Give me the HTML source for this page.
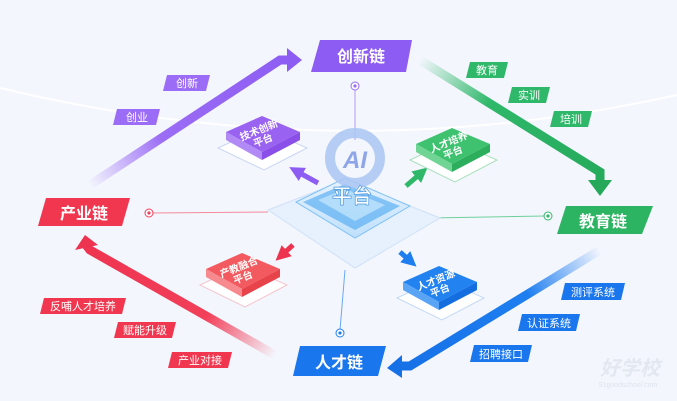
<!DOCTYPE html>
<html><head><meta charset="utf-8"><style>
body{margin:0;width:677px;height:401px;overflow:hidden;background:#f3f6fd;font-family:"Liberation Sans","Noto Sans CJK SC",sans-serif}
svg{display:block}
text{font-family:"Liberation Sans","Noto Sans CJK SC",sans-serif}
</style></head><body>
<svg width="677" height="401" viewBox="0 0 677 401" xmlns="http://www.w3.org/2000/svg">
<defs>
<linearGradient id="gp" x1="90" y1="185" x2="300" y2="58" gradientUnits="userSpaceOnUse"><stop offset="0" stop-color="#9b6cf5" stop-opacity="0"/><stop offset="0.35" stop-color="#9b6cf5"/><stop offset="1" stop-color="#8d5cf3"/></linearGradient>
<linearGradient id="gg" x1="420" y1="60" x2="610" y2="195" gradientUnits="userSpaceOnUse"><stop offset="0" stop-color="#2fb86a" stop-opacity="0"/><stop offset="0.35" stop-color="#2fb86a"/><stop offset="1" stop-color="#25a85a"/></linearGradient>
<linearGradient id="gr" x1="275" y1="355" x2="85" y2="235" gradientUnits="userSpaceOnUse"><stop offset="0" stop-color="#f2405a" stop-opacity="0"/><stop offset="0.35" stop-color="#f2405a"/><stop offset="1" stop-color="#ee3350"/></linearGradient>
<linearGradient id="gb" x1="600" y1="250" x2="387" y2="368" gradientUnits="userSpaceOnUse"><stop offset="0" stop-color="#1e7ef0" stop-opacity="0"/><stop offset="0.35" stop-color="#1e7ef0"/><stop offset="1" stop-color="#1670e6"/></linearGradient>
<linearGradient id="cp" x1="0" y1="0" x2="0" y2="1"><stop offset="0" stop-color="#e8f3ff"/><stop offset="1" stop-color="#bfe0fb"/></linearGradient>
<marker id="mp" markerWidth="3" markerHeight="3" refX="1" refY="1.5" orient="auto"><polygon points="0,0 3,1.5 0,3" fill="#8d5cf3"/></marker>
<marker id="mg" markerWidth="3" markerHeight="3" refX="1" refY="1.5" orient="auto"><polygon points="0,0 3,1.5 0,3" fill="#2fb86a"/></marker>
<marker id="mr" markerWidth="3" markerHeight="3" refX="1" refY="1.5" orient="auto"><polygon points="0,0 3,1.5 0,3" fill="#ee3350"/></marker>
<marker id="mb" markerWidth="3" markerHeight="3" refX="1" refY="1.5" orient="auto"><polygon points="0,0 3,1.5 0,3" fill="#1e7ef0"/></marker>
</defs>
<path d="M0 88 Q340 170 677 95" fill="none" stroke="#fff" stroke-width="2"/>
<!-- arrows -->
<path d="M90 185 L280 60 L290 60" fill="none" stroke="url(#gp)" stroke-width="9"/>
<polygon points="287,48 302,60 287,72" fill="#8d5cf3"/>
<path d="M420 60 L600 172 L600 182" fill="none" stroke="url(#gg)" stroke-width="9"/>
<polygon points="588,180 600,196 612,180" fill="#25a85a"/>
<path d="M275 355 L90 250 L86 245" fill="none" stroke="url(#gr)" stroke-width="9"/>
<polygon points="75,250 85,235 98,245" fill="#ee3350"/>
<path d="M600 250 L410 366 L398 366" fill="none" stroke="url(#gb)" stroke-width="9"/>
<polygon points="402,355 387,368 402,378" fill="#1670e6"/>
<!-- thin lines -->
<line x1="355" y1="88" x2="355" y2="140" stroke="#b79bf5" stroke-width="1"/>
<line x1="152" y1="213" x2="268" y2="212" stroke="#f58a9a" stroke-width="1"/>
<line x1="430" y1="218" x2="545" y2="216" stroke="#6fd09a" stroke-width="1"/>
<line x1="345" y1="270" x2="340" y2="330" stroke="#6aa8f5" stroke-width="1"/>
<circle cx="355" cy="86" r="4" fill="#fff" stroke="#9b6cf5"/><circle cx="355" cy="86" r="1.6" fill="#9b6cf5"/>
<circle cx="149" cy="213" r="4" fill="#fff" stroke="#f2405a"/><circle cx="149" cy="213" r="1.6" fill="#f2405a"/>
<circle cx="548" cy="216" r="4" fill="#fff" stroke="#2fb86a"/><circle cx="548" cy="216" r="1.6" fill="#2fb86a"/>
<circle cx="340" cy="333" r="4" fill="#fff" stroke="#1e7ef0"/><circle cx="340" cy="333" r="1.6" fill="#1e7ef0"/>
<!-- center platform -->
<polygon points="268,210 345,180 440,218 355,268" fill="#e6f1fd" stroke="#cfe0f7"/>
<polygon points="296,202 345,178 410,206 355,238" fill="url(#cp)" stroke="#7fc0f5"/>
<polygon points="303,202 345,184 400,206 355,230" fill="#3da0f0" opacity="0.55"/>
<polygon points="318,200 345,189 385,205 355,221" fill="#bfe3fb" opacity="0.8"/>
<circle cx="355" cy="158" r="25" fill="none" stroke="#a9c6f2" stroke-width="10" opacity="0.85"/>
<text x="355" y="168" font-size="24" font-weight="bold" font-style="italic" fill="#8ea5e8" text-anchor="middle">AI</text>
<text x="352" y="203" font-size="20" font-weight="bold" fill="#fff" text-anchor="middle" stroke="#4a96e0" stroke-width="0.7">平台</text>
<!-- small arrows -->
<line x1="318" y1="183" x2="298" y2="172" stroke="#8d5cf3" stroke-width="5" marker-end="url(#mp)"/>
<line x1="406" y1="186" x2="420" y2="174" stroke="#2fb86a" stroke-width="5" marker-end="url(#mg)"/>
<line x1="293" y1="245" x2="283" y2="254" stroke="#ee3350" stroke-width="5" marker-end="url(#mr)"/>
<line x1="400" y1="252" x2="409" y2="260" stroke="#1e7ef0" stroke-width="5" marker-end="url(#mb)"/>
<!-- sub platforms -->
<g>
<polygon points="218,148 262,128 307,148 264,170" fill="#fff" stroke="#c9d6f3"/>
<polygon points="226,132 262,116 300,132 262,152" fill="#9a62f0"/>
<polygon points="226,132 262,152 262,160 226,140" fill="#b28af5"/>
<polygon points="300,132 262,152 262,160 300,140" fill="#8a4fe8"/>
<text x="262" y="133" font-size="10" font-weight="bold" fill="#fff" text-anchor="middle" transform="rotate(-22 262 138)">技术创新<tspan x="262" dy="11">平台</tspan></text>
</g>
<g>
<polygon points="410,160 452,140 497,160 455,182" fill="#fff" stroke="#a8e0bd"/>
<polygon points="416,144 452,128 490,144 452,164" fill="#3fc26f"/>
<polygon points="416,144 452,164 452,172 416,152" fill="#6fd494"/>
<polygon points="490,144 452,164 452,172 490,152" fill="#2cae5c"/>
<text x="452" y="145" font-size="10" font-weight="bold" fill="#fff" text-anchor="middle" transform="rotate(-22 452 150)">人才培养<tspan x="452" dy="11">平台</tspan></text>
</g>
<g>
<polygon points="200,285 242,265 287,285 245,307" fill="#fff" stroke="#f7c4cc"/>
<polygon points="206,269 242,253 280,269 242,289" fill="#f25a5f"/>
<polygon points="206,269 242,289 242,297 206,277" fill="#f78a8e"/>
<polygon points="280,269 242,289 242,297 280,277" fill="#e8434b"/>
<text x="242" y="270" font-size="10" font-weight="bold" fill="#fff" text-anchor="middle" transform="rotate(-22 242 275)">产教融合<tspan x="242" dy="11">平台</tspan></text>
</g>
<g>
<polygon points="397,298 439,278 484,298 442,320" fill="#fff" stroke="#c3d9f5"/>
<polygon points="403,282 439,266 477,282 439,302" fill="#2282ef"/>
<polygon points="403,282 439,302 439,310 403,290" fill="#5aa4f5"/>
<polygon points="477,282 439,302 439,310 477,290" fill="#146ee0"/>
<text x="439" y="283" font-size="10" font-weight="bold" fill="#fff" text-anchor="middle" transform="rotate(-22 439 288)">人才资源<tspan x="439" dy="11">平台</tspan></text>
</g>
<!-- main labels -->
<polygon points="320,40 412,40 406,72 311,72" fill="#8d5cf3"/>
<text x="361" y="62" font-size="16" font-weight="bold" fill="#fff" text-anchor="middle">创新链</text>
<polygon points="566,206 653,206 642,234 557,234" fill="#2cb463"/>
<text x="603" y="227" font-size="16" font-weight="bold" fill="#fff" text-anchor="middle">教育链</text>
<polygon points="46,198 130,198 122,226 38,226" fill="#f0374f"/>
<text x="84" y="219" font-size="16" font-weight="bold" fill="#fff" text-anchor="middle">产业链</text>
<polygon points="300,346 386,346 378,376 293,376" fill="#1a76ec"/>
<text x="339" y="368" font-size="16" font-weight="bold" fill="#fff" text-anchor="middle">人才链</text>
<!-- tags -->
<g font-size="11" fill="#fff" text-anchor="middle">
<polygon points="167,75 210,75 206,91 163,91" fill="#9b6cf5"/><text x="187" y="87">创新</text>
<polygon points="117,109 160,109 156,125 113,125" fill="#9b6cf5"/><text x="137" y="121">创业</text>
<polygon points="470,62 508,62 504,78 466,78" fill="#2fb86a"/><text x="487" y="74">教育</text>
<polygon points="512,87 550,87 546,103 508,103" fill="#2fb86a"/><text x="529" y="99">实训</text>
<polygon points="554,111 592,111 588,127 550,127" fill="#2fb86a"/><text x="571" y="123">培训</text>
<polygon points="44,298 126,298 122,314 40,314" fill="#f0374f"/><text x="83" y="310">反哺人才培养</text>
<polygon points="118,322 176,322 172,338 114,338" fill="#f0374f"/><text x="145" y="334">赋能升级</text>
<polygon points="172,352 232,352 228,368 168,368" fill="#f0374f"/><text x="200" y="364">产业对接</text>
<polygon points="565,283 625,283 621,300 561,300" fill="#1a76ec"/><text x="593" y="296">测评系统</text>
<polygon points="522,314 580,314 576,331 518,331" fill="#1a76ec"/><text x="549" y="327">认证系统</text>
<polygon points="474,345 532,345 528,362 470,362" fill="#1a76ec"/><text x="501" y="358">招聘接口</text>
</g>
<text x="630" y="375" font-size="20" font-weight="bold" font-style="italic" fill="#e3e8f0" text-anchor="middle">好学校</text>
<text x="628" y="387" font-size="7" fill="#dde3ec" text-anchor="middle">91goodschool.com</text>
</svg>
</body></html>
